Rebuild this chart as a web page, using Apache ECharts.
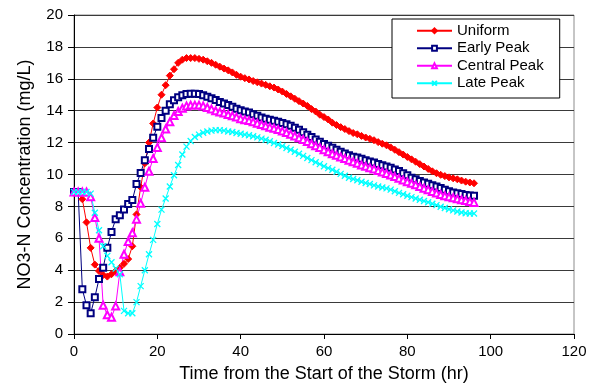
<!DOCTYPE html>
<html>
<head>
<meta charset="utf-8">
<script src="https://cdn.jsdelivr.net/npm/echarts@6/dist/echarts.min.js"></script>
<style>
html,body{margin:0;padding:0;background:#fff;}
#chart{width:599px;height:392px;}
</style>
</head>
<body>
<div id="chart"></div>
<script>
const hours = [0,1,2,3,4,5,6,7,8,9,10,11,12,13,14,15,16,17,18,19,20,21,22,23,24,25,26,27,28,29,30,31,32,33,34,35,36,37,38,39,40,41,42,43,44,45,46,47,48,49,50,51,52,53,54,55,56,57,58,59,60,61,62,63,64,65,66,67,68,69,70,71,72,73,74,75,76,77,78,79,80,81,82,83,84,85,86,87,88,89,90,91,92,93,94,95,96];

const uniform = [8.9,8.9,8.45,7.0,5.4,4.35,3.95,3.7,3.6,3.75,3.95,4.15,4.4,4.7,5.5,7.5,9.2,10.7,12.0,13.2,14.2,15.0,15.6,16.2,16.6,17.0,17.2,17.3,17.3,17.3,17.25,17.2,17.1,17.0,16.88,16.76,16.64,16.53,16.4,16.25,16.13,16.04,15.96,15.86,15.78,15.7,15.62,15.53,15.45,15.33,15.2,15.05,14.9,14.75,14.6,14.45,14.3,14.1,13.95,13.75,13.6,13.45,13.25,13.1,12.97,12.85,12.72,12.6,12.52,12.42,12.32,12.24,12.15,12.03,11.93,11.83,11.7,11.55,11.4,11.25,11.1,10.95,10.8,10.65,10.5,10.35,10.2,10.08,9.98,9.9,9.82,9.76,9.7,9.62,9.55,9.5,9.45];

const earlyPeak = [8.9,8.9,2.8,1.8,1.3,2.3,3.45,4.15,5.4,6.4,7.2,7.45,7.8,8.15,8.4,9.4,10.1,10.9,11.6,12.3,13.0,13.55,14.0,14.4,14.65,14.85,14.97,15.05,15.07,15.07,15.05,14.97,14.88,14.78,14.67,14.55,14.45,14.35,14.25,14.12,14.03,13.95,13.88,13.78,13.68,13.58,13.5,13.43,13.37,13.3,13.23,13.15,13.05,12.93,12.8,12.65,12.5,12.35,12.2,12.05,11.92,11.8,11.67,11.55,11.43,11.32,11.2,11.12,11.06,10.98,10.9,10.82,10.75,10.66,10.58,10.5,10.42,10.32,10.22,10.08,9.95,9.8,9.7,9.6,9.5,9.42,9.33,9.25,9.15,9.05,8.95,8.87,8.82,8.77,8.72,8.69,8.66];

const centralPeak = [8.9,8.9,8.9,8.9,8.6,7.3,6.0,1.8,1.2,1.05,1.75,3.9,5.0,5.8,6.35,7.2,8.2,9.2,10.2,11.0,11.7,12.3,12.85,13.3,13.7,13.95,14.15,14.3,14.35,14.35,14.35,14.3,14.2,14.1,14.0,13.92,13.85,13.76,13.68,13.6,13.5,13.44,13.38,13.3,13.22,13.13,13.05,12.97,12.9,12.82,12.72,12.63,12.53,12.42,12.3,12.2,12.07,11.93,11.8,11.7,11.55,11.43,11.3,11.2,11.1,11.0,10.9,10.8,10.7,10.6,10.52,10.43,10.35,10.25,10.16,10.07,9.97,9.87,9.76,9.65,9.55,9.45,9.35,9.25,9.14,9.05,8.94,8.84,8.75,8.67,8.6,8.54,8.48,8.42,8.37,8.3,8.25];

const latePeak = [8.9,8.9,8.9,8.9,8.8,7.6,6.5,5.5,4.9,4.5,4.1,3.75,1.45,1.3,1.3,2.0,3.0,4.0,5.0,5.9,6.9,7.8,8.5,9.25,9.95,10.6,11.25,11.75,12.1,12.35,12.5,12.62,12.7,12.75,12.78,12.78,12.75,12.7,12.66,12.6,12.55,12.5,12.46,12.4,12.33,12.25,12.18,12.08,11.98,11.88,11.78,11.66,11.55,11.43,11.3,11.17,11.03,10.9,10.77,10.65,10.52,10.4,10.3,10.17,10.04,9.92,9.8,9.72,9.64,9.55,9.47,9.4,9.32,9.25,9.19,9.13,9.05,8.95,8.85,8.76,8.67,8.58,8.5,8.42,8.34,8.26,8.17,8.08,7.98,7.9,7.82,7.75,7.68,7.62,7.57,7.55,7.55];

const seriesNames = ['Uniform','Early Peak','Central Peak','Late Peak'];
const xTitle = 'Time from the Start of the Storm (hr)';
const yTitle = 'NO3-N Concentration (mg/L)';

function pairs(vals){ return hours.map((h,i)=>[h, vals[i]]); }

const FONT = '"Liberation Sans", Arial, Helvetica, sans-serif';
const xMark = 'path://M0,0L10,10M10,0L0,10';

const chart = echarts.init(document.getElementById('chart'), null, {renderer:'canvas'});
chart.setOption({
  animation:false,
  backgroundColor:'#fff',
  textStyle:{fontFamily:FONT},
  grid:{left:74,right:25,top:15,bottom:58,show:true,borderColor:'#8c8c8c',borderWidth:1,backgroundColor:'transparent'},
  legend:{
    orient:'vertical',left:392,top:19,
    padding:[3,16,6,24],
    itemWidth:35,itemHeight:6,itemGap:0,
    backgroundColor:'#fff',borderColor:'#000',borderWidth:1,
    textStyle:{fontFamily:FONT,fontSize:15,color:'#000',lineHeight:17.5},
    data:seriesNames
  },
  xAxis:{
    type:'value',min:0,max:120,interval:20,
    name:xTitle,nameLocation:'middle',nameGap:31,
    nameTextStyle:{fontFamily:FONT,fontSize:18,color:'#000'},
    axisLine:{show:true,onZero:false,lineStyle:{color:'#000',width:1}},
    axisTick:{show:true,inside:false,length:5,lineStyle:{color:'#000'}},
    axisLabel:{fontFamily:FONT,fontSize:15,color:'#000',margin:10},
    splitLine:{show:false}
  },
  yAxis:{
    type:'value',min:0,max:20,interval:2,
    name:yTitle,nameLocation:'middle',nameGap:40,
    nameTextStyle:{fontFamily:FONT,fontSize:18,color:'#000'},
    axisLine:{show:true,lineStyle:{color:'#000',width:1}},
    axisTick:{show:true,inside:false,length:6,lineStyle:{color:'#000'}},
    axisLabel:{fontFamily:FONT,fontSize:15,color:'#000',margin:11},
    splitLine:{show:true,lineStyle:{color:'#3a3a3a',width:1}}
  },
  series:[
    {name:seriesNames[0],type:'line',data:pairs(uniform),symbol:'diamond',symbolSize:7,
     lineStyle:{color:'#ff0000',width:1},itemStyle:{color:'#ff0000',borderColor:'#ff0000',borderWidth:1}},
    {name:seriesNames[1],type:'line',data:pairs(earlyPeak),symbol:'emptyRect',symbolSize:6,
     lineStyle:{color:'#000080',width:1},itemStyle:{color:'#000080',borderColor:'#000080',borderWidth:1.3}},
    {name:seriesNames[2],type:'line',data:pairs(centralPeak),symbol:'emptyTriangle',symbolSize:7,
     lineStyle:{color:'#ff00ff',width:1},itemStyle:{color:'#ff00ff',borderColor:'#ff00ff',borderWidth:1.3}},
    {name:seriesNames[3],type:'line',data:pairs(latePeak),symbol:xMark,symbolSize:6,
     lineStyle:{color:'#00ffff',width:1},itemStyle:{color:'#00ffff',borderColor:'#00ffff',borderWidth:1.3}}
  ]
});
</script>
</body>
</html>
